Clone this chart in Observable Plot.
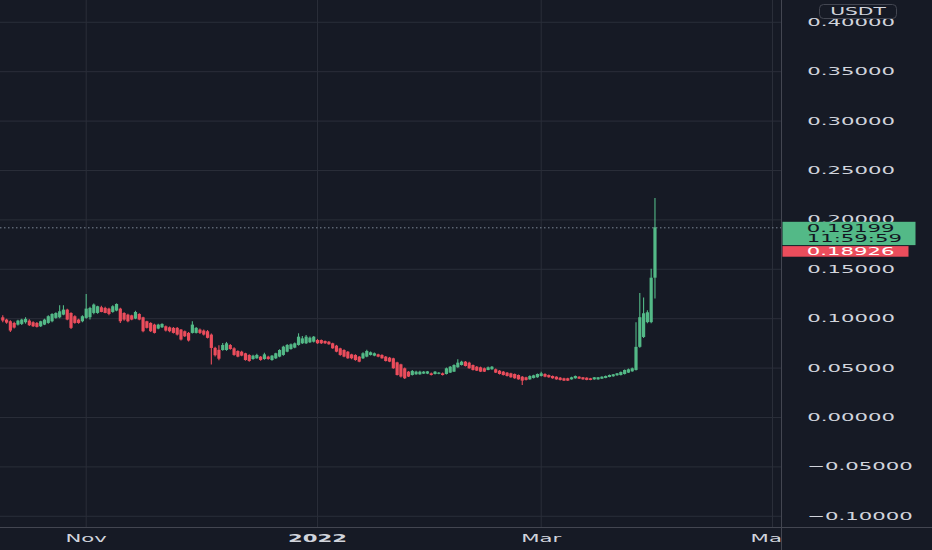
<!DOCTYPE html>
<html><head><meta charset="utf-8">
<script src="https://cdn.jsdelivr.net/npm/d3@7"></script>
<script src="https://cdn.jsdelivr.net/npm/@observablehq/plot@0.6"></script>
<style>
html,body{margin:0;padding:0;background:#161a25;}
#chart{width:932px;height:550px;overflow:hidden;}
</style></head><body><div id="chart"></div>
<script>
// ---- data (daily candles, last one on 2022-03-31) ----
const lastDay = "2022-03-31";
const open = [
.1009,.0986,.0969,.0952,.0935,.0942,.0959,.0976,.0959,.0952,
.0918,.0935,.0952,.0969,.1003,.1009,.1036,.1087,.1053,.1020,
.0986,.0969,.1003,.1010,.1053,.1053,.1111,.1104,.1097,.1063,
.1077,.1097,.1053,.1036,.1029,.0996,.1043,.1009,.0969,.0952,
.0935,.0895,.0908,.0918,.0908,.0902,.0902,.0885,.0868,.0851,
.0851,.0851,.0885,.0875,.0868,.0834,.0700,.0680,
.0678,.0678,.0729,.0695,.0668,.0661,.0645,.0628,.0587,.0594,
.0611,.0587,.0611,.0577,.0594,.0611,.0628,.0661,.0688,.0702,
.0729,.0746,.0746,.0756,.0762,.0779,.0779,.0769,.0762,.0746,
.0722,.0695,.0678,.0661,.0634,.0628,.0611,.0594,.0611,.0628,
.0621,.0634,.0628,.0611,.0601,.0594,.0553,.0533,.0493,.0459,
.0425,.0432,.0432,.0439,.0439,
.0442,.0435,.0437,.0442,.0435,.0449,.0459,.0503,.0526,.0560,
.0550,.0526,.0509,.0503,.0493,.0476,.0483,.0483,.0469,.0459,
.0449,.0442,.0435,.0425,.0408,.0402,.0381,.0395,.0402,.0415,
.0435,.0425,.0415,.0408,.0398,.0392,.0392,.0381,.0392,.0408,
.0402,.0398,.0392,.0381,.0381,.0388,.0395,.0405,.0412,.0422,
.0425,.0435,.0449,.0462,.0476,.0710,.0810,.0960,.0960,.1410];
const high = [
.1030,.0995,.0980,.0965,.0985,.0995,.1010,.0990,.0970,.0962,
.0975,.0995,.1030,.1050,.1060,.1131,.1131,.1095,.1060,.1030,
.0995,.1030,.1245,.1115,.1150,.1125,.1125,.1115,.1105,.1130,
.1150,.1105,.1060,.1045,.1035,.1075,.1050,.1015,.0975,.0960,
.0945,.0945,.0950,.0925,.0915,.0910,.0910,.0890,.0875,.0860,
.0969,.0910,.0895,.0885,.0880,.0845,.0712,.0725,
.0750,.0760,.0740,.0705,.0675,.0670,.0650,.0635,.0630,.0640,
.0618,.0650,.0620,.0628,.0650,.0685,.0720,.0740,.0745,.0755,
.0847,.0820,.0830,.0815,.0820,.0790,.0785,.0775,.0770,.0752,
.0730,.0700,.0685,.0668,.0640,.0635,.0618,.0655,.0680,.0662,
.0652,.0640,.0635,.0618,.0608,.0600,.0560,.0540,.0500,.0465,
.0475,.0468,.0468,.0465,.0466,
.0450,.0466,.0455,.0450,.0500,.0515,.0535,.0584,.0570,.0568,
.0558,.0532,.0515,.0510,.0500,.0510,.0515,.0490,.0475,.0465,
.0455,.0448,.0440,.0430,.0415,.0408,.0422,.0428,.0440,.0459,
.0442,.0430,.0420,.0412,.0405,.0398,.0398,.0408,.0420,.0412,
.0406,.0402,.0396,.0406,.0406,.0412,.0420,.0430,.0436,.0446,
.0460,.0480,.0490,.0500,.0960,.1255,.1210,.1080,.1500,.2216];
const low = [
.0959,.0945,.0860,.0895,.0925,.0930,.0945,.0920,.0912,.0905,
.0910,.0930,.0945,.0960,.0995,.1000,.1030,.0980,.0890,.0945,
.0945,.0960,.0995,.0986,.1040,.1045,.1060,.1050,.1030,.1055,
.1070,.0952,.0975,.0960,.0980,.0990,.0980,.0858,.0895,.0860,
.0845,.0888,.0900,.0865,.0858,.0845,.0825,.0775,.0810,.0765,
.0845,.0845,.0840,.0825,.0795,.0531,.0612,.0575,
.0670,.0670,.0680,.0620,.0605,.0615,.0570,.0560,.0580,.0590,
.0570,.0580,.0580,.0570,.0588,.0605,.0620,.0655,.0680,.0695,
.0722,.0740,.0740,.0750,.0755,.0740,.0740,.0740,.0730,.0690,
.0655,.0620,.0605,.0590,.0585,.0570,.0555,.0588,.0605,.0622,
.0615,.0605,.0590,.0562,.0555,.0488,.0420,.0400,.0385,.0405,
.0420,.0428,.0428,.0435,.0434,
.0420,.0430,.0432,.0420,.0430,.0445,.0455,.0498,.0520,.0510,
.0488,.0470,.0465,.0455,.0455,.0472,.0478,.0445,.0430,.0420,
.0410,.0398,.0388,.0378,.0324,.0370,.0378,.0390,.0398,.0410,
.0402,.0398,.0388,.0378,.0370,.0365,.0364,.0378,.0388,.0385,
.0378,.0372,.0372,.0378,.0378,.0385,.0392,.0402,.0408,.0418,
.0420,.0430,.0445,.0458,.0470,.0700,.0800,.0950,.0950,.1200];
const close = [
.0976,.0955,.0875,.0905,.0976,.0986,.0993,.0929,.0918,.0912,
.0969,.0986,.1020,.1043,.1053,.1070,.1087,.0986,.0902,.0952,
.0952,.1020,.1097,.1104,.1138,.1121,.1063,.1053,.1043,.1121,
.1144,.0969,.0986,.0969,.0986,.1063,.0986,.0868,.0902,.0868,
.0851,.0935,.0942,.0875,.0868,.0851,.0834,.0784,.0817,.0774,
.0935,.0902,.0851,.0834,.0801,.0699,.0625,.0590,
.0729,.0746,.0688,.0628,.0611,.0621,.0577,.0567,.0621,.0628,
.0577,.0634,.0587,.0621,.0645,.0678,.0712,.0729,.0736,.0746,
.0813,.0796,.0813,.0803,.0813,.0746,.0746,.0746,.0736,.0695,
.0661,.0628,.0611,.0594,.0594,.0577,.0560,.0645,.0668,.0655,
.0645,.0611,.0594,.0567,.0560,.0493,.0425,.0409,.0392,.0409,
.0466,.0459,.0459,.0459,.0462,
.0425,.0459,.0449,.0425,.0493,.0509,.0526,.0550,.0560,.0516,
.0493,.0476,.0469,.0459,.0459,.0503,.0509,.0449,.0435,.0425,
.0415,.0402,.0392,.0381,.0368,.0375,.0415,.0422,.0435,.0442,
.0408,.0402,.0392,.0381,.0375,.0368,.0368,.0402,.0415,.0388,
.0381,.0375,.0375,.0402,.0402,.0408,.0415,.0425,.0432,.0442,
.0456,.0476,.0483,.0493,.0710,.1010,.1050,.1060,.1410,.19199];

const yTicks = [-0.1,-0.05,0,0.05,0.1,0.15,0.2,0.25,0.3,0.35,0.4];
const xTickDates = ["2021-11-01","2022-01-01","2022-03-01","2022-05-01"];
const xTickLabels = ["Nov","2022","Mar","May"];
const currency = "USDT";
const lastPrice = 0.19199;
const countdown = "11:59:59";
const secondPrice = 0.18926;

// ---- layout / style ----
const W = 932, H = 550, mR = 151, mB = 23;
const BG = "#161a25", GRID = "#2a2e39", BORDER = "#434651", TXT = "#d1d4dc";
const UP = "#53b987", DOWN = "#eb4d5c";
const SX = 1.93; // horizontal text stretch of the picture
const yDomain = [-0.11134, 0.42206];
const nov1 = Date.UTC(2021, 10, 1), DAY = 864e5;
const xDomain = [new Date(nov1 - 22.6 * DAY), new Date(nov1 + 183.37 * DAY)];

const end = new Date(lastDay + "T00:00:00Z");
const candles = close.map((c, i) => ({
  date: d3.utcDay.offset(end, i - (close.length - 1)),
  open: open[i], high: high[i], low: low[i], close: c, up: c >= open[i]
}));
const ups = candles.filter(d => d.up), downs = candles.filter(d => !d.up);
const xTicks = xTickDates.map(s => new Date(s + "T00:00:00Z"));
const labelOf = d => xTickLabels[xTicks.findIndex(t => +t === +d)];

const plot = Plot.plot({
  width: W, height: H,
  marginTop: 0, marginLeft: 0, marginRight: mR, marginBottom: mB,
  style: {background: BG, color: TXT, fontFamily: "DejaVu Sans, sans-serif", fontSize: "11px"},
  x: {type: "utc", domain: xDomain, axis: "bottom", ticks: xTicks, tickFormat: labelOf, tickSize: 0, tickPadding: 7, label: null},
  y: {domain: yDomain, axis: "right", ticks: yTicks, tickFormat: d3.format(".5f"), tickSize: 0, tickPadding: 25.7, label: null},
  marks: [
    Plot.ruleY(yTicks, {stroke: GRID}),
    Plot.ruleX(xTicks, {stroke: GRID}),
    Plot.ruleY([lastPrice], {stroke: "#7c8794", strokeDasharray: "1.5,2.5"}),
    Plot.ruleX(ups, {x: "date", y1: "low", y2: "high", stroke: UP, strokeWidth: 1.1}),
    Plot.ruleX(downs, {x: "date", y1: "low", y2: "high", stroke: DOWN, strokeWidth: 1.1}),
    Plot.ruleX(ups, {x: "date", y1: "open", y2: "close", stroke: UP, strokeWidth: 3.2}),
    Plot.ruleX(downs, {x: "date", y1: "open", y2: "close", stroke: DOWN, strokeWidth: 3.2})
  ]
});
document.getElementById("chart").appendChild(plot);

// ---- stretch tick labels horizontally like the picture ----
const svg = d3.select(plot);
function stretch(node) {
  const x = parseFloat(node.getAttribute("x")) || 0;
  const tr = node.getAttribute("transform") || "";
  node.setAttribute("x", 0);
  node.setAttribute("transform", `${tr} translate(${x},0) scale(${SX},1)`);
}
svg.selectAll("text").each(function () {
  stretch(this);
  if (this.textContent === "2022") this.setAttribute("font-weight", "bold");
  this.setAttribute("fill", TXT);
});
// clip the x labels at the price-axis border ("Ma…")
const defs = svg.insert("defs", ":first-child");
defs.append("clipPath").attr("id", "clipPane").append("rect")
  .attr("x", 0).attr("y", 0).attr("width", W - mR).attr("height", H);
svg.selectAll('g[aria-label^="x-axis"]').attr("clip-path", "url(#clipPane)");

// ---- price-axis decorations ----
const yS = d3.scaleLinear().domain(yDomain).range([H - mB, 0]);
const g = svg.append("g");
g.append("line").attr("x1", W - mR + 0.5).attr("x2", W - mR + 0.5).attr("y1", 0).attr("y2", H).attr("stroke", BORDER);
g.append("line").attr("x1", 0).attr("x2", W).attr("y1", H - mB + 0.5).attr("y2", H - mB + 0.5).attr("stroke", BORDER);

function label(txt, x, y, fill, size = 11, anchor = "start") {
  g.append("text").text(txt).attr("fill", fill).attr("text-anchor", anchor)
    .attr("font-size", size)
    .attr("transform", `translate(${x},${y}) scale(${SX},1)`);
}
g.append("rect").attr("x", 819.5).attr("y", 4.5).attr("width", 77).attr("height", 14).attr("rx", 4)
  .attr("fill", BG).attr("stroke", BORDER);
label(currency, 858, 15, TXT, 10.5, "middle");

const py = yS(lastPrice);
g.append("rect").attr("x", W - mR + 1.5).attr("y", py - 5.5).attr("width", 133).attr("height", 23.3).attr("fill", UP);
g.append("rect").attr("x", W - mR + 1.5).attr("y", py + 18.8).attr("width", 126).attr("height", 10.6).attr("fill", DOWN);
label(d3.format(".5f")(lastPrice), 806.7, py + 4.6, "#131722");
label(countdown, 806.7, py + 15, "#131722");
label(d3.format(".5f")(secondPrice), 806.7, py + 27.8, "#ffffff");
</script>
</body></html>
